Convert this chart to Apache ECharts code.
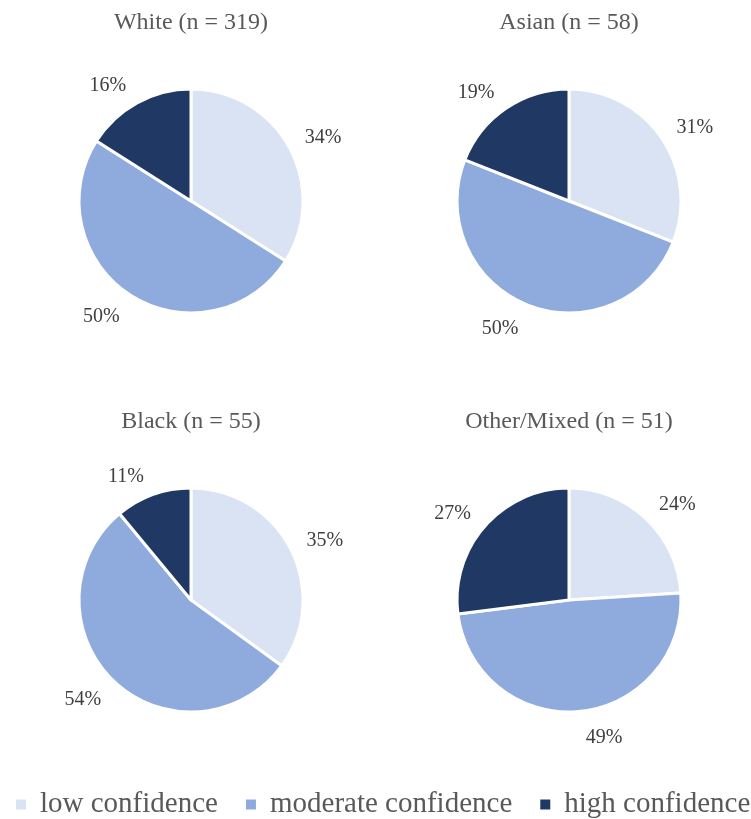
<!DOCTYPE html>
<html>
<head>
<meta charset="utf-8">
<script src="https://cdn.jsdelivr.net/npm/echarts@6/dist/echarts.min.js"></script>
<style>html,body{margin:0;padding:0;background:#fff}#c{width:751px;height:819px}</style>
</head>
<body>
<div id="c"></div>
<script>
const categories = ['low confidence', 'moderate confidence', 'high confidence'];
const groupTitles = ['White (n = 319)', 'Asian (n = 58)', 'Black (n = 55)', 'Other/Mixed (n = 51)'];
const whiteValues = [34, 50, 16];
const asianValues = [31, 50, 19];
const blackValues = [35, 54, 11];
const otherValues = [24, 49, 27];
const colors = ['#DAE3F3', '#8FAADC', '#203864'];

const groups = [whiteValues, asianValues, blackValues, otherValues];
const centers = [[191, 201], [569, 201], [191, 600], [569, 600]];
const titleTops = [6, 6, 405, 405];
const font = '"Liberation Serif", "Times New Roman", serif';

const chart = echarts.init(document.getElementById('c'), null, {renderer: 'canvas'});
chart.setOption({
  animation: false,
  backgroundColor: '#fff',
  color: colors,
  title: groupTitles.map((t, i) => ({
    text: t,
    left: centers[i][0] - 5,
    top: titleTops[i],
    textAlign: 'center',
    textStyle: {fontFamily: font, fontSize: 24, fontWeight: 'normal', color: '#595959'}
  })),
  legend: {
    data: categories,
    bottom: -5,
    left: 9,
    width: 742,
    padding: [5, 0, 5, 5],
    icon: 'rect',
    itemWidth: 12,
    itemHeight: 12,
    itemGap: 26,
    textStyle: {fontFamily: font, fontSize: 29, color: '#595959', padding: [0, 0, 0, 8]}
  },
  series: groups.map((vals, i) => ({
    type: 'pie',
    center: centers[i],
    radius: 112,
    startAngle: 90,
    clockwise: true,
    avoidLabelOverlap: false,
    silent: true,
    itemStyle: {borderColor: '#fff', borderWidth: 3},
    label: {
      show: true,
      position: 'outside',
      formatter: '{c}%',
      fontFamily: font,
      fontSize: 20,
      color: '#404040'
    },
    labelLine: {show: false, length: 12, length2: 0},
    // push each label away from the pie vertically as well (like the original's outside-end labels)
    labelLayout: function (p) {
      const c = centers[p.seriesIndex];
      const r = p.labelRect;
      const vx = r.x + r.width / 2 - c[0];
      const vy = r.y + r.height / 2 - c[1];
      const len = Math.sqrt(vx * vx + vy * vy) || 1;
      return {dy: (vy > 0 ? 15 : 8) * vy / len};
    },
    data: categories.map((c, k) => ({name: c, value: vals[k]}))
  }))
});
</script>
</body>
</html>
